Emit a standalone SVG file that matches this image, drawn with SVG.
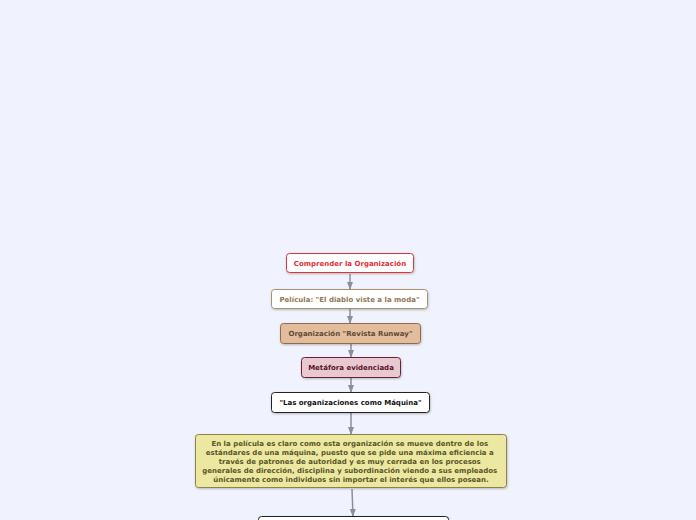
<svg xmlns="http://www.w3.org/2000/svg" width="696" height="520" viewBox="0 0 696 520">
<defs>
<filter id="sh" x="-10%" y="-20%" width="120%" height="150%">
<feDropShadow dx="0.5" dy="1" stdDeviation="0.8" flood-color="#000" flood-opacity="0.25"/>
</filter>
<marker id="ah" markerWidth="8" markerHeight="6" refX="7" refY="3" orient="auto" markerUnits="userSpaceOnUse">
<path d="M0,0 L8,3 L0,6 Z" fill="#8a8f99"/>
</marker>
</defs>
<style>
text{font-family:"DejaVu Sans",Verdana,sans-serif;font-weight:bold;font-size:7px;text-anchor:middle}
.box{filter:url(#sh);stroke-width:1}
.c{stroke:#8a8f99;stroke-width:1.5;fill:none;marker-end:url(#ah)}
</style>
<rect width="696" height="520" fill="#f0f3fd"/>
<g id="connectors">
<line class="c" x1="350" y1="274" x2="350" y2="289"/>
<line class="c" x1="350" y1="309" x2="350" y2="323"/>
<line class="c" x1="351" y1="344" x2="351" y2="357"/>
<line class="c" x1="351" y1="378" x2="351" y2="392"/>
<line class="c" x1="351" y1="413" x2="351" y2="434"/>
<line class="c" x1="352" y1="489" x2="353" y2="516"/>
</g>
<g id="n1">
<rect class="box" x="286.5" y="253.5" width="127" height="19" rx="3" fill="#ffffff" stroke="#e0303a"/>
<text x="350" y="265.5" fill="#e0303a">Comprender la Organización</text>
</g>
<g id="n2">
<rect class="box" x="271.5" y="289.5" width="156" height="19" rx="3" fill="#ffffff" stroke="#a89472"/>
<text x="349.5" y="301.5" fill="#8f7a55">Película: "El diablo viste a la moda"</text>
</g>
<g id="n3">
<rect class="box" x="280.5" y="323.5" width="140" height="20" rx="3" fill="#e3bd9b" stroke="#8a6c50"/>
<text x="350.5" y="336" fill="#5c4a3a">Organización "Revista Runway"</text>
</g>
<g id="n4">
<rect class="box" x="301.5" y="357.5" width="99" height="20" rx="3" fill="#e9c9d1" stroke="#6a2232"/>
<text x="351" y="370" fill="#5a1424">Metáfora evidenciada</text>
</g>
<g id="n5">
<rect class="box" x="271.5" y="392.5" width="158" height="20" rx="3" fill="#ffffff" stroke="#222222"/>
<text x="350.5" y="405" fill="#111111">"Las organizaciones como Máquina"</text>
</g>
<g id="n6">
<rect class="box" x="195.5" y="434.5" width="311" height="53" rx="3" fill="#ece8a2" stroke="#8a8448"/>
<text fill="#5a5626">
<tspan x="351" y="446">En la película es claro como esta organización se mueve dentro de los</tspan>
<tspan x="351" y="455">estándares de una máquina, puesto que se pide una máxima eficiencia a</tspan>
<tspan x="351" y="464">través de patrones de autoridad y es muy cerrada en los procesos</tspan>
<tspan x="351" y="473">generales de dirección, disciplina y subordinación viendo a sus empleados</tspan>
<tspan x="351" y="482">únicamente como individuos sin importar el interés que ellos posean.</tspan>
</text>
</g>
<g id="n7">
<rect class="box" x="258.5" y="516.5" width="190" height="20" rx="3" fill="#ffffff" stroke="#222222"/>
</g>
</svg>
